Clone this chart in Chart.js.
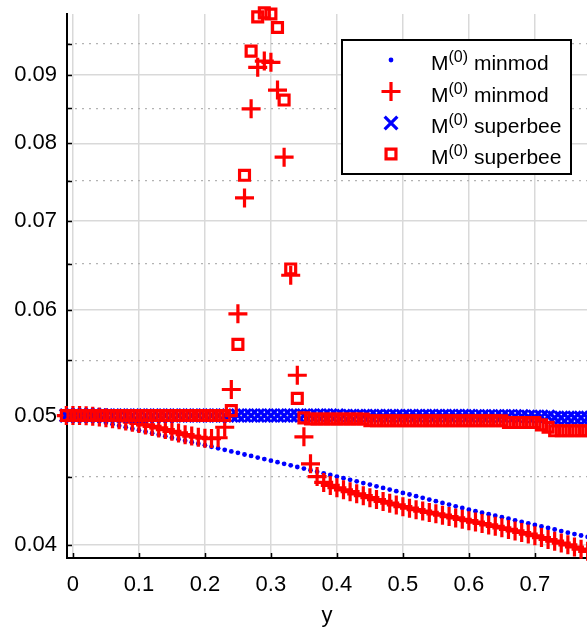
<!DOCTYPE html>
<html>
<head>
<meta charset="utf-8">
<script src="https://cdn.jsdelivr.net/npm/chart.js@4.4.1/dist/chart.umd.min.js"></script>
<style>
  html, body { margin: 0; padding: 0; background: #fff; }
  #wrap { width: 587px; height: 629px; position: relative; }
</style>
</head>
<body>
<div id="wrap"><canvas id="chart"></canvas></div>
<script>
// sample positions along y
const yPos = [
  -0.01, 0.00, 0.01, 0.02, 0.03, 0.04, 0.05, 0.06, 0.07, 0.08, 0.09,
  0.10, 0.11, 0.12, 0.13, 0.14, 0.15, 0.16, 0.17, 0.18, 0.19,
  0.20, 0.21, 0.22, 0.23, 0.24, 0.25, 0.26, 0.27, 0.28, 0.29,
  0.30, 0.31, 0.32, 0.33, 0.34, 0.35, 0.36, 0.37, 0.38, 0.39,
  0.40, 0.41, 0.42, 0.43, 0.44, 0.45, 0.46, 0.47, 0.48, 0.49,
  0.50, 0.51, 0.52, 0.53, 0.54, 0.55, 0.56, 0.57, 0.58, 0.59,
  0.60, 0.61, 0.62, 0.63, 0.64, 0.65, 0.66, 0.67, 0.68, 0.69,
  0.70, 0.71, 0.72, 0.73, 0.74, 0.75, 0.76, 0.77, 0.78, 0.79
];

// blue dots - M(0) minmod
const minmodExact = [
  0.05012, 0.05, 0.04988, 0.04975, 0.04963, 0.0495, 0.04938, 0.04925, 0.04913, 0.049, 0.04888,
  0.04875, 0.04863, 0.0485, 0.04838, 0.04825, 0.04813, 0.048, 0.04788, 0.04775, 0.04763,
  0.0475, 0.04738, 0.04725, 0.04713, 0.047, 0.04688, 0.04675, 0.04663, 0.0465, 0.04638,
  0.04625, 0.04613, 0.046, 0.04588, 0.04575, 0.04563, 0.0455, 0.04538, 0.04525, 0.04513,
  0.045, 0.04488, 0.04475, 0.04463, 0.0445, 0.04438, 0.04425, 0.04413, 0.044, 0.04388,
  0.04375, 0.04363, 0.0435, 0.04338, 0.04325, 0.04313, 0.043, 0.04288, 0.04275, 0.04263,
  0.0425, 0.04239, 0.04228, 0.04217, 0.04206, 0.04195, 0.04184, 0.04173, 0.04162, 0.04151,
  0.0414, 0.04129, 0.04118, 0.04107, 0.04096, 0.04085, 0.04075, 0.04065, 0.04055, 0.04045
];

// red plus - M(0) minmod
const minmodNum = [
  0.05, 0.05, 0.05, 0.04998, 0.04994, 0.04988, 0.0498, 0.04972, 0.04963, 0.04953, 0.04943,
  0.04932, 0.0492, 0.04907, 0.04894, 0.0488, 0.04866, 0.04852, 0.04838, 0.04826, 0.04816,
  0.04808, 0.04805, 0.04812, 0.0490, 0.0523, 0.0596, 0.0728, 0.0849, 0.0912, 0.0922,
  0.0920, 0.0877, 0.0781, 0.0637, 0.0536, 0.0482, 0.0460, 0.0450, 0.04455, 0.04432,
  0.04414, 0.04398, 0.04384, 0.04368, 0.04354, 0.04339, 0.04325, 0.04311, 0.04298, 0.04285,
  0.04272, 0.04261, 0.0425, 0.0424, 0.0423, 0.0422, 0.0421, 0.042, 0.0419, 0.0418,
  0.0417, 0.0416, 0.0415, 0.0414, 0.0413, 0.04119, 0.04108, 0.04097, 0.04086, 0.04075,
  0.04063, 0.0405, 0.04037, 0.04025, 0.04012, 0.04, 0.03985, 0.0397, 0.03955, 0.0394
];

// blue x - M(0) superbee
const superbeeExact = [
  0.05, 0.05, 0.05, 0.05, 0.05, 0.05, 0.05, 0.05, 0.05, 0.05, 0.05,
  0.05, 0.05, 0.05, 0.05, 0.05, 0.05, 0.05, 0.05, 0.05, 0.05,
  0.05, 0.05, 0.05, 0.05, 0.05, 0.05, 0.05, 0.05, 0.05, 0.05,
  0.05, 0.05, 0.05, 0.05, 0.05, 0.05, 0.05, 0.05, 0.05, 0.05,
  0.05, 0.04997, 0.04997, 0.04997, 0.04997, 0.04997, 0.04997, 0.04997, 0.04997, 0.04997,
  0.04997, 0.04997, 0.04997, 0.04997, 0.04997, 0.04997, 0.04997, 0.04997, 0.04997, 0.04997,
  0.04997, 0.04994, 0.04994, 0.04994, 0.04994, 0.04994, 0.04994, 0.04994, 0.04994, 0.0499,
  0.0499, 0.0499, 0.0499, 0.0498, 0.0498, 0.0498, 0.0498, 0.0498, 0.0498, 0.0498
];

// red squares - M(0) superbee
const superbeeNum = [
  0.05, 0.05, 0.05, 0.05, 0.05, 0.05, 0.05, 0.05, 0.05, 0.05, 0.05,
  0.05, 0.05, 0.05, 0.05, 0.05, 0.05, 0.05, 0.05, 0.05, 0.05,
  0.05, 0.05, 0.05, 0.05, 0.05043, 0.05654, 0.0757, 0.0938, 0.0995, 0.1002,
  0.1, 0.0977, 0.0862, 0.0644, 0.0515, 0.0498, 0.0497, 0.0497, 0.0497, 0.0497,
  0.0497, 0.0497, 0.0497, 0.0497, 0.0497, 0.04955, 0.04955, 0.04955, 0.04955, 0.04955,
  0.04955, 0.04955, 0.04955, 0.04955, 0.04955, 0.04955, 0.04955, 0.04955, 0.04955, 0.04955,
  0.04955, 0.04955, 0.04955, 0.04955, 0.04955, 0.04955, 0.0494, 0.0494, 0.0494, 0.0494,
  0.0494, 0.0492, 0.049, 0.0487, 0.0487, 0.0487, 0.0487, 0.0487, 0.0487, 0.0487
];

const xTicks = [0, 0.1, 0.2, 0.3, 0.4, 0.5, 0.6, 0.7];
const yMajor = [0.04, 0.05, 0.06, 0.07, 0.08, 0.09];
const yMinor = [0.045, 0.055, 0.065, 0.075, 0.085, 0.095];
const seriesNames = ['minmod', 'minmod', 'superbee', 'superbee'];

const FONT = "'Liberation Sans', Arial, Helvetica, sans-serif";
Chart.defaults.font.family = FONT;
Chart.defaults.color = '#000';

const yTicks = yMajor.concat(yMinor).sort((a, b) => a - b);
const isMajor = v => yMajor.some(m => Math.abs(m - v) < 1e-9);
const toPts = arr => yPos.map((x, i) => ({ x: x, y: arr[i] }));

// legend marker styles, same order as datasets
const markers = [
  { style: 'circle', r: 2.4, color: '#0000ff', lw: 0 },
  { style: 'cross', r: 9.5, color: '#ff0000', lw: 3.2 },
  { style: 'crossRot', r: 9, color: '#0000ff', lw: 3.2 },
  { style: 'rect', r: 7, color: '#ff0000', lw: 3.2 }
];

function drawMarker(ctx, m, x, y) {
  ctx.save();
  ctx.strokeStyle = m.color;
  ctx.fillStyle = m.color;
  ctx.lineWidth = m.lw;
  ctx.beginPath();
  if (m.style === 'circle') {
    ctx.arc(x, y, m.r, 0, Math.PI * 2);
    ctx.fill();
  } else if (m.style === 'cross') {
    ctx.moveTo(x - m.r, y); ctx.lineTo(x + m.r, y);
    ctx.moveTo(x, y - m.r); ctx.lineTo(x, y + m.r);
    ctx.stroke();
  } else if (m.style === 'crossRot') {
    const d = m.r * Math.SQRT1_2;
    ctx.moveTo(x - d, y - d); ctx.lineTo(x + d, y + d);
    ctx.moveTo(x - d, y + d); ctx.lineTo(x + d, y - d);
    ctx.stroke();
  } else {
    const s = m.r * Math.SQRT1_2;
    ctx.rect(x - s, y - s, 2 * s, 2 * s);
    ctx.stroke();
  }
  ctx.restore();
}

// matlab style ticks pointing into the plot
const innerTicks = {
  id: 'innerTicks',
  beforeDatasetsDraw(chart) {
    const { ctx, chartArea: a, scales } = chart;
    ctx.save();
    ctx.strokeStyle = '#000';
    ctx.lineWidth = 1.5;
    ctx.beginPath();
    yTicks.forEach(v => {
      const py = Math.round(scales.y.getPixelForValue(v)) + 0.5;
      ctx.moveTo(a.left, py); ctx.lineTo(a.left + 5, py);
    });
    xTicks.forEach(v => {
      const px = Math.round(scales.x.getPixelForValue(v)) + 0.5;
      ctx.moveTo(px, a.bottom); ctx.lineTo(px, a.bottom - 5);
    });
    ctx.stroke();
    ctx.restore();
  }
};

const boxLegend = {
  id: 'boxLegend',
  afterDraw(chart) {
    const ctx = chart.ctx;
    const bx = 342, by = 40, bw = 229, bh = 134;
    ctx.save();
    ctx.fillStyle = '#fff';
    ctx.fillRect(bx, by, bw, bh);
    ctx.strokeStyle = '#000';
    ctx.lineWidth = 2;
    ctx.strokeRect(bx, by, bw, bh);
    const rows = [60, 91.5, 123, 154];
    seriesNames.forEach((name, i) => {
      const y = rows[i];
      drawMarker(ctx, markers[i], 391, y);
      ctx.fillStyle = '#000';
      ctx.textBaseline = 'alphabetic';
      ctx.textAlign = 'left';
      let x = 431;
      ctx.font = '21px ' + FONT;
      ctx.fillText('M', x, y + 10);
      x += ctx.measureText('M').width;
      ctx.font = '16px ' + FONT;
      ctx.fillText('(0)', x, y + 2);
      x += ctx.measureText('(0)').width;
      ctx.font = '21px ' + FONT;
      ctx.fillText(' ' + name, x, y + 10);
    });
    ctx.restore();
  }
};

new Chart(document.getElementById('chart'), {
  type: 'scatter',
  data: {
    datasets: [
      {
        label: 'M(0) minmod',
        data: toPts(minmodExact),
        pointStyle: 'circle',
        pointRadius: 2.4,
        backgroundColor: '#0000ff',
        borderColor: '#0000ff',
        borderWidth: 0,
        clip: false,
        order: 4
      },
      {
        label: 'M(0) minmod',
        data: toPts(minmodNum),
        pointStyle: 'cross',
        pointRadius: 9.5,
        borderColor: '#ff0000',
        backgroundColor: '#ff0000',
        borderWidth: 3.2,
        clip: false,
        order: 3
      },
      {
        label: 'M(0) superbee',
        data: toPts(superbeeExact),
        pointStyle: 'crossRot',
        pointRadius: 9,
        borderColor: '#0000ff',
        backgroundColor: '#0000ff',
        borderWidth: 3.2,
        clip: false,
        order: 2
      },
      {
        label: 'M(0) superbee',
        data: toPts(superbeeNum),
        pointStyle: 'rect',
        pointRadius: 7,
        borderColor: '#ff0000',
        backgroundColor: 'rgba(0,0,0,0)',
        borderWidth: 3.2,
        clip: false,
        order: 1
      }
    ]
  },
  options: {
    responsive: true,
    maintainAspectRatio: false,
    animation: false,
    layout: { autoPadding: false, padding: { top: 14, right: 0, left: 0, bottom: 0 } },
    plugins: {
      legend: { display: false },
      tooltip: { enabled: false }
    },
    scales: {
      x: {
        type: 'linear',
        min: -0.009,
        max: 0.779,
        afterBuildTicks: s => { s.ticks = xTicks.map(v => ({ value: v })); },
        afterFit: s => { s.height = 71; s.paddingLeft = 0; s.paddingRight = 0; },
        ticks: {
          autoSkip: false,
          maxRotation: 0,
          padding: 14,
          color: '#000',
          font: { size: 22 },
          callback: v => String(Math.round(v * 10) / 10)
        },
        grid: { color: '#d9d9d9', lineWidth: 1.5, drawTicks: false },
        border: { color: '#000', width: 2 },
        title: {
          display: true,
          text: 'y',
          color: '#000',
          font: { size: 22 },
          padding: { top: 0, bottom: 0 }
        }
      },
      y: {
        type: 'logarithmic',
        min: 0.0391,
        max: 0.1,
        afterBuildTicks: s => { s.ticks = yTicks.map(v => ({ value: v })); },
        afterFit: s => { s.width = 67; s.paddingTop = 0; s.paddingBottom = 0; },
        ticks: {
          autoSkip: false,
          padding: 10,
          color: '#000',
          font: { size: 22 },
          callback: v => isMajor(v) ? v.toFixed(2) : ''
        },
        grid: {
          drawTicks: false,
          color: c => (c.tick && !isMajor(c.tick.value)) ? '#b3b3b3' : '#d9d9d9',
          lineWidth: c => (c.tick && !isMajor(c.tick.value)) ? 1.2 : 1.5
        },
        border: {
          color: '#000',
          width: 2,
          dash: c => (c.tick && !isMajor(c.tick.value)) ? [2, 5] : []
        }
      }
    }
  },
  plugins: [innerTicks, boxLegend]
});
</script>
</body>
</html>
